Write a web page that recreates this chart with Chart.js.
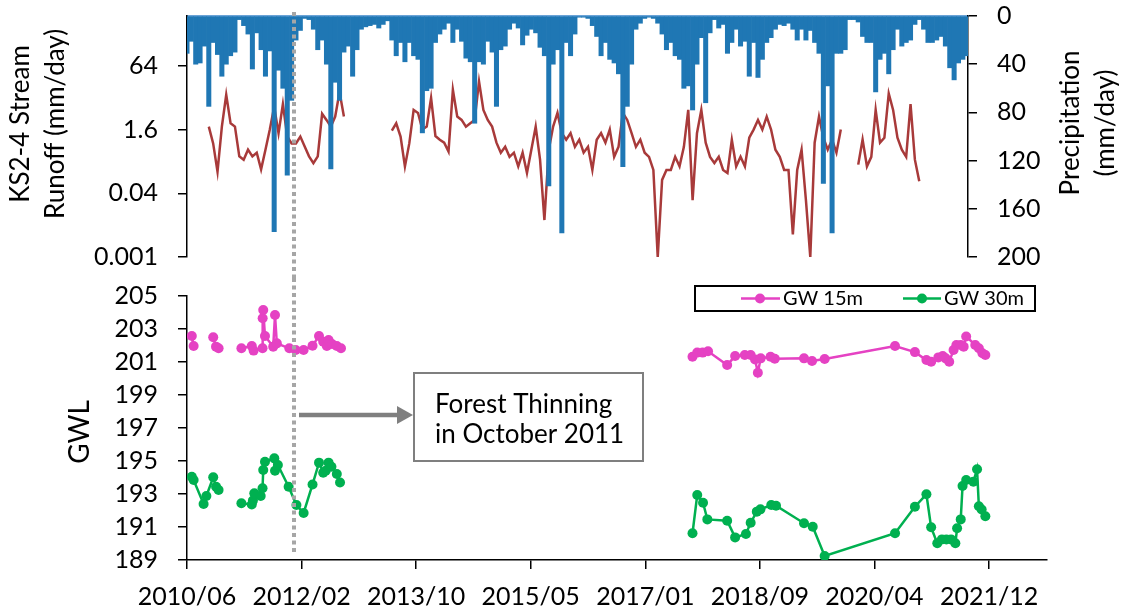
<!DOCTYPE html>
<html>
<head>
<meta charset="utf-8">
<script src="https://cdn.jsdelivr.net/npm/chart.js@4.4.1/dist/chart.umd.min.js"></script>
<style>
  html, body { margin: 0; padding: 0; background: #fff; }
  #wrap { position: relative; width: 1126px; height: 615px; overflow: hidden; }
  #topChart { position: absolute; left: 0; top: 0; }
  #gwChart { position: absolute; left: 0; top: 278px; }
</style>
</head>
<body>
<div id="wrap">
  <canvas id="topChart" width="1126" height="278"></canvas>
  <canvas id="gwChart" width="1126" height="337"></canvas>
</div>
<script>
// time is in decimal years, 2010/06 = 2010.417
const axisStart = 2010.417
const runoffEnd = 2021.616
const gwEnd = 2022.748
const thinningYear = 2011.95

const xTickValues = [2010.417, 2012.060, 2013.703, 2015.345, 2016.988, 2018.631, 2020.274, 2021.917]
const xTickLabels = ['2010/06', '2012/02', '2013/10', '2015/05', '2017/01', '2018/09', '2020/04', '2021/12']

const runoffTicks = [0.001, 0.04, 1.6, 64]
const precipTicks = [0, 40, 80, 120, 160, 200]
const gwTicks = [189, 191, 193, 195, 197, 199, 201, 203, 205]

// precipitation and runoff, one reading every 1/16 year (~3 weeks) from 2010/06
const periodStep = 1 / 16
const precipValues = [
  31, 21, 40, 39, 25, 75, 22, 32, 50, 40, 33, 30, 3, 8, 15, 44, 14, 28, 50, 29,
  179, 45, 60, 132, 70, 20, 12, 2, 3, 11, 28, 20, 40, 127, 55, 70, 30, 25, 50, 28,
  11, 9, 8, 7, 10, 7, 4, 20, 33, 22, 38, 22, 33, 36, 97, 62, 60, 22, 15, 11,
  6, 22, 11, 21, 35, 38, 89, 38, 40, 21, 30, 75, 28, 25, 11, 6, 10, 24, 16, 11,
  14, 26, 33, 141, 40, 28, 180, 22, 33, 15, 1, 1, 2, 8, 17, 33, 22, 36, 39, 48,
  125, 75, 40, 11, 6, 2, 1, 2, 6, 15, 28, 22, 33, 36, 60, 58, 78, 40, 18, 72,
  14, 3, 10, 7, 31, 22, 11, 25, 21, 50, 22, 51, 36, 22, 18, 11, 7, 8, 6, 11,
  20, 11, 20, 12, 22, 31, 139, 58, 180, 31, 31, 28, 3, 3, 5, 17, 22, 22, 63, 36,
  31, 48, 28, 11, 25, 22, 20, 7, 3, 11, 22, 22, 20, 17, 25, 43, 53, 39, 36, 33
]
const runoffValues = [
  null, null, null, null, null, 1.9, 0.72, 0.14, 1.9, 12, 2.3, 1.9, 0.34, 0.28, 0.5, 0.34, 0.42, 0.16, 0.5, 1.6,
  6, 1.3, 7, 1.07, 0.72, 0.72, 1.07, 0.6, 0.34, 0.23, 0.34, 4, 2.8, 1.9, 3.4, 14, 3.4, null, null, null,
  null, null, null, null, null, null, null, 1.5, 2.3, 1.07, 0.19, 0.72, 5, 4.2, 1.6, 1.9, 10, 1.1, 0.89, 0.75,
  0.45, 16, 3.4, 2.8, 1.9, 2.3, 2.8, 26, 5, 2.8, 1.9, 0.75, 0.42, 0.59, 0.33, 0.42, 0.19, 0.42, 0.13, 0.5,
  1.9, 0.28, 0.0085, 0.5, 1.9, 4.2, 1.3, 0.89, 1.3, 0.59, 0.89, 0.42, 0.59, 0.155, 0.89, 1.3, 0.75, 1.6, 0.33, 0.59,
  4.2, 2.8, 1.3, 0.59, 0.89, 0.42, 0.33, 0.155, 0.001, 0.087, 0.155, 0.155, 0.33, 0.19, 0.59, 5, 0.027, 1.3, 5, 0.75,
  0.33, 0.23, 0.33, 0.155, 0.13, 0.89, 0.19, 0.33, 0.19, 1.0, 1.6, 2.8, 1.6, 3.4, 1.6, 0.5, 0.33, 0.155, 0.155, 0.0037,
  0.155, 0.5, 0.027, 0.001, 0.75, 3.4, 1.0, 0.5, 0.89, 0.42, 1.6, null, null, null, 0.21, 0.9, 0.19, 0.33, 5, 0.75,
  1.0, 13, 5, 1.0, 0.5, 0.33, 7, 0.28, 0.08, null, null, null, null, null, null, null, null, null, null, null
]

// groundwater levels (null = no reading, breaks the line)
const gw15Dates = [2010.486, 2010.512, 2010.65, 2010.793, 2010.833, 2010.870, 2011.03, 2011.197, 2011.346, 2011.372,
  2011.500, 2011.502, 2011.510, 2011.535, 2011.653, 2011.679, 2011.705, 2011.884, 2011.976, 2012.089,
  2012.217, 2012.310, 2012.370, 2012.422, 2012.447, 2012.496, 2012.565, 2012.625, 2015.0, 2017.665,
  2017.733, 2017.810, 2017.888, 2018.162, 2018.276, 2018.415, 2018.499, 2018.562, 2018.602, 2018.643,
  2018.784, 2018.845, 2019.264, 2019.379, 2019.560, 2020.569, 2020.854, 2021.019, 2021.087, 2021.190,
  2021.253, 2021.295, 2021.346, 2021.408, 2021.449, 2021.511, 2021.553, 2021.589, 2021.719, 2021.771,
  2021.822, 2021.864]
const gw15Values = [202.58, 201.97, null, 202.50, 201.93, 201.83, null, 201.83, 201.97, 201.69,
  201.83, 203.65, 204.15, 202.58, 201.93, 203.85, 202.13, 201.83, 201.73, 201.73,
  201.99, 202.58, 202.23, 201.97, 202.33, 202.09, 201.97, 201.83, null, 201.32,
  201.57, 201.57, 201.65, 200.82, 201.36, 201.42, 201.42, 201.15, 200.35, 201.22,
  201.32, 201.20, 201.22, 201.06, 201.18, 201.97, 201.60, 201.12, 201.02, 201.28,
  201.36, 201.22, 201.02, 201.73, 202.03, 202.03, 201.93, 202.55, 202.03, 201.83,
  201.53, 201.42]

const gw30Dates = [2010.486, 2010.512, 2010.655, 2010.695, 2010.793, 2010.834, 2010.870, 2011.03, 2011.197, 2011.346,
  2011.362, 2011.382, 2011.474, 2011.500, 2011.510, 2011.535, 2011.669, 2011.679, 2011.720, 2011.874,
  2011.986, 2012.089, 2012.217, 2012.310, 2012.370, 2012.406, 2012.447, 2012.488, 2012.565, 2012.611,
  2015.0, 2017.665, 2017.733, 2017.816, 2017.878, 2018.162, 2018.276, 2018.431, 2018.499, 2018.587,
  2018.639, 2018.794, 2018.863, 2019.264, 2019.389, 2019.560, 2020.569, 2020.854, 2021.019, 2021.087,
  2021.175, 2021.241, 2021.305, 2021.372, 2021.434, 2021.459, 2021.511, 2021.537, 2021.589, 2021.693,
  2021.745, 2021.771, 2021.811, 2021.864]
const gw30Values = [194.05, 193.85, 192.39, 192.88, 194.01, 193.44, 193.24, null, 192.44, 192.36,
  192.60, 193.04, 192.88, 193.35, 194.45, 194.95, 195.16, 194.41, 194.76, 193.44,
  192.33, 191.85, 193.58, 194.90, 194.29, 194.41, 194.90, 194.65, 194.21, 193.70,
  null, 190.62, 192.94, 192.47, 191.46, 191.38, 190.37, 190.58, 191.26, 191.93,
  192.07, 192.33, 192.29, 191.23, 191.02, 189.24, 190.62, 192.23, 192.98, 190.98,
  190.01, 190.25, 190.25, 190.25, 190.01, 190.92, 191.46, 193.48, 193.85, 193.75,
  194.50, 192.26, 192.06, 191.65]

const pink = '#E542C3'
const green = '#00B050'
const FONT = 'Lato, "Open Sans", sans-serif'

function pairs(xs, ys) {
  return xs.map((x, i) => ({ x: x, y: ys[i] }))
}

function vText(ctx, text, x, y) {
  ctx.save()
  ctx.translate(x, y)
  ctx.rotate(-Math.PI / 2)
  ctx.fillText(text, 0, 0)
  ctx.restore()
}

function dottedLine(ctx, x, y0, y1) {
  ctx.save()
  ctx.strokeStyle = '#A6A6A6'
  ctx.lineWidth = 4
  ctx.setLineDash([4, 3.5])
  ctx.beginPath()
  ctx.moveTo(x, y0)
  ctx.lineTo(x, y1)
  ctx.stroke()
  ctx.restore()
}

const topDecor = {
  id: 'topDecor',
  afterDatasetsDraw(chart) {
    const x = Math.round(chart.scales.x.getPixelForValue(thinningYear))
    dottedLine(chart.ctx, x, 12, chart.height)
  },
  afterDraw(chart) {
    const ctx = chart.ctx
    ctx.save()
    ctx.fillStyle = '#000'
    ctx.font = '26px ' + FONT
    ctx.textAlign = 'center'
    ctx.textBaseline = 'middle'
    vText(ctx, 'KS2-4 Stream', 21, 124)
    vText(ctx, 'Runoff (mm/day)', 56, 124)
    vText(ctx, 'Precipitation', 1071, 123)
    vText(ctx, '(mm/day)', 1106, 123)
    ctx.restore()
  }
}

const gwDecor = {
  id: 'gwDecor',
  afterDatasetsDraw(chart) {
    const ctx = chart.ctx
    const x = Math.round(chart.scales.x.getPixelForValue(thinningYear))
    dottedLine(ctx, x, 0, 277)

    // annotation box + arrow
    ctx.save()
    ctx.strokeStyle = '#7F7F7F'
    ctx.fillStyle = '#7F7F7F'
    ctx.lineWidth = 4.5
    ctx.beginPath()
    ctx.moveTo(x + 5, 137)
    ctx.lineTo(399, 137)
    ctx.stroke()
    ctx.beginPath()
    ctx.moveTo(397, 128)
    ctx.lineTo(413, 137)
    ctx.lineTo(397, 146)
    ctx.closePath()
    ctx.fill()
    ctx.fillStyle = '#fff'
    ctx.fillRect(414, 95, 229, 88)
    ctx.lineWidth = 2
    ctx.strokeRect(414, 95, 229, 88)
    ctx.fillStyle = '#000'
    ctx.font = '26px ' + FONT
    ctx.textAlign = 'left'
    ctx.textBaseline = 'alphabetic'
    ctx.fillText('Forest Thinning', 435, 135)
    ctx.fillText('in October 2011', 435, 165)

    // GWL title
    ctx.font = '28px ' + FONT
    ctx.textAlign = 'center'
    ctx.textBaseline = 'middle'
    vText(ctx, 'GWL', 80, 154)

    // legend
    ctx.fillStyle = '#fff'
    ctx.fillRect(695, 8, 340, 25)
    ctx.strokeStyle = '#000'
    ctx.lineWidth = 2
    ctx.strokeRect(695, 8, 340, 25)
    const items = [[741, 780, 760, 783, chart.data.datasets[0]], [903, 941, 922, 944, chart.data.datasets[1]]]
    ctx.font = '20px ' + FONT
    ctx.textAlign = 'left'
    items.forEach(it => {
      ctx.strokeStyle = it[4].borderColor
      ctx.fillStyle = it[4].borderColor
      ctx.lineWidth = 2.5
      ctx.beginPath()
      ctx.moveTo(it[0], 20.5)
      ctx.lineTo(it[1], 20.5)
      ctx.stroke()
      ctx.beginPath()
      ctx.arc(it[2], 20.5, 5, 0, Math.PI * 2)
      ctx.fill()
      ctx.fillStyle = '#000'
      ctx.fillText(it[4].label, it[3], 21)
    })
    ctx.restore()
  }
}

function draw() {
  Chart.defaults.font.family = FONT
  Chart.defaults.color = '#000'

  const periodDates = precipValues.map((v, i) => axisStart + i * periodStep)

  new Chart(document.getElementById('topChart'), {
    type: 'bar',
    data: {
      datasets: [
        {
          type: 'bar',
          label: 'Precipitation',
          data: pairs(periodDates, precipValues),
          yAxisID: 'yP',
          backgroundColor: '#1F77B4',
          borderWidth: 0,
          barPercentage: 1,
          categoryPercentage: 1,
          order: 0
        },
        {
          type: 'line',
          label: 'KS2-4 Runoff',
          data: pairs(periodDates, runoffValues),
          yAxisID: 'yR',
          borderColor: '#A83A3A',
          borderWidth: 2.5,
          pointRadius: 0,
          spanGaps: false,
          order: 1
        }
      ]
    },
    options: {
      responsive: false,
      animation: false,
      layout: { padding: { top: 16, bottom: 21, left: 0, right: 0 } },
      plugins: { legend: { display: false }, tooltip: { enabled: false } },
      scales: {
        x: {
          type: 'linear',
          position: 'top',
          offset: false,
          min: axisStart,
          max: runoffEnd,
          ticks: { display: false },
          grid: { display: false },
          border: { color: '#6BA3D6', width: 2 },
          afterFit: s => { s.height = 0; s.paddingLeft = 0; s.paddingRight = 0 }
        },
        yR: {
          type: 'logarithmic',
          position: 'left',
          min: 0.001,
          max: 1150,
          bounds: 'data',
          afterBuildTicks: s => { s.ticks = runoffTicks.map(v => ({ value: v })) },
          afterFit: s => { s.width = 187; s.paddingTop = 0; s.paddingBottom = 0 },
          ticks: { autoSkip: false, callback: v => String(v), font: { size: 25 }, padding: 20 },
          grid: { drawOnChartArea: false, tickLength: 9, color: '#000', lineWidth: 1.5 },
          border: { color: '#000', width: 1.5 }
        },
        yP: {
          type: 'linear',
          position: 'right',
          reverse: true,
          min: 0,
          max: 200,
          afterBuildTicks: s => { s.ticks = precipTicks.map(v => ({ value: v })) },
          afterFit: s => { s.width = 158; s.paddingTop = 0; s.paddingBottom = 0 },
          ticks: { autoSkip: false, font: { size: 25 }, padding: 20 },
          grid: { drawOnChartArea: false, tickLength: 9, color: '#000', lineWidth: 1.5 },
          border: { color: '#000', width: 1.5 }
        }
      }
    },
    plugins: [topDecor]
  })

  new Chart(document.getElementById('gwChart'), {
    type: 'line',
    data: {
      datasets: [
        {
          label: 'GW 15m',
          data: pairs(gw15Dates, gw15Values),
          borderColor: pink,
          backgroundColor: pink,
          pointBackgroundColor: pink,
          borderWidth: 2.5,
          pointRadius: 5,
          pointBorderWidth: 0,
          tension: 0,
          spanGaps: false
        },
        {
          label: 'GW 30m',
          data: pairs(gw30Dates, gw30Values),
          borderColor: green,
          backgroundColor: green,
          pointBackgroundColor: green,
          borderWidth: 2.5,
          pointRadius: 5,
          pointBorderWidth: 0,
          tension: 0,
          spanGaps: false
        }
      ]
    },
    options: {
      responsive: false,
      animation: false,
      layout: { padding: { top: 18, right: 79, bottom: 0, left: 0 } },
      plugins: { legend: { display: false }, tooltip: { enabled: false } },
      scales: {
        x: {
          type: 'linear',
          min: axisStart,
          max: gwEnd,
          afterBuildTicks: s => { s.ticks = xTickValues.map(v => ({ value: v })) },
          afterFit: s => { s.height = 55; s.paddingLeft = 0; s.paddingRight = 0 },
          ticks: { autoSkip: false, maxRotation: 0, callback: (v, i) => xTickLabels[i], font: { size: 25 }, padding: 13 },
          grid: { drawOnChartArea: false, tickLength: 9, color: '#000', lineWidth: 1.5 },
          border: { color: '#000', width: 1.5 }
        },
        y: {
          min: 189,
          max: 205,
          afterBuildTicks: s => { s.ticks = gwTicks.map(v => ({ value: v })) },
          afterFit: s => { s.width = 187; s.paddingTop = 0; s.paddingBottom = 0 },
          ticks: { autoSkip: false, font: { size: 25 }, padding: 20 },
          grid: { drawOnChartArea: false, tickLength: 9, color: '#000', lineWidth: 1.5 },
          border: { color: '#000', width: 1.5 }
        }
      }
    },
    plugins: [gwDecor]
  })
}

document.fonts.load('25px Lato').then(draw, draw)
</script>
</body>
</html>
